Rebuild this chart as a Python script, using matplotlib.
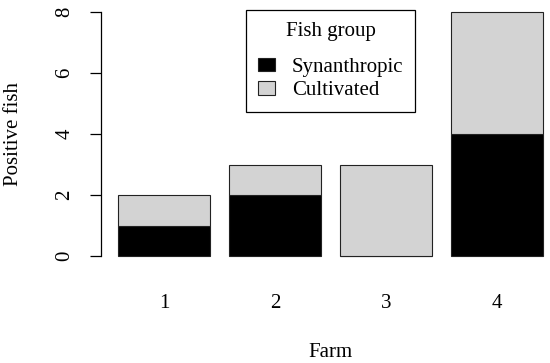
import matplotlib
matplotlib.use("Agg")
import matplotlib.pyplot as plt
import numpy as np

plt.rcParams['font.family'] = ['Liberation Serif', 'DejaVu Serif']

# data
farms = ["1", "2", "3", "4"]
synanthropic = [1, 2, 0, 4]
cultivated = [1, 1, 3, 4]
yticks = [0, 2, 4, 6, 8]

fs = 15

fig = plt.figure(figsize=(5.5, 3.63), dpi=100)
# plot region runs a bit past the right edge, like the cropped original
ax = fig.add_axes([101 / 550, 97 / 363, 459 / 550, 264 / 363])

# R barplot style: width 1, space 0.2
x = 0.2 + np.arange(len(farms)) * 1.2 + 0.5
ax.bar(x, synanthropic, width=1.0, color="black", edgecolor="#222222",
       linewidth=0.8, label="Synanthropic")
ax.bar(x, cultivated, width=1.0, bottom=synanthropic, color="#D3D3D3",
       edgecolor="#222222", linewidth=0.8, label="Cultivated")

ax.set_xlim(0.2 - 0.184, 4.8 + 0.184)
ax.set_ylim(-0.32, 8.32)

for s in ["top", "right", "bottom"]:
    ax.spines[s].set_visible(False)
ax.spines["left"].set_bounds(0, 8)
ax.spines["left"].set_linewidth(0.9)

ax.set_yticks(yticks)
ax.set_yticklabels([str(v) for v in yticks], rotation=90, va="center")
ax.tick_params(axis="y", length=8, width=0.9, pad=11, labelsize=fs)
ax.set_xticks(x)
ax.set_xticklabels(farms)
ax.tick_params(axis="x", length=0, pad=20, labelsize=fs)

ax.set_ylabel("Positive fish", fontsize=fs)
ax.yaxis.set_label_coords(-0.17, 0.5)
ax.set_xlabel("Farm", fontsize=fs)
ax.xaxis.set_label_coords(0.5, -0.29)

leg = ax.legend(title="Fish group", loc="upper left",
                bbox_to_anchor=(0.316, 0.968), fontsize=fs, title_fontsize=fs,
                fancybox=False, edgecolor="black", framealpha=1,
                handlelength=0.85, handleheight=0.65, handletextpad=0.8,
                borderpad=0.55, labelspacing=0.2, borderaxespad=0)
leg._legend_box.sep = 12
leg.get_frame().set_linewidth(0.9)

fig.savefig("out.png", dpi=100)
